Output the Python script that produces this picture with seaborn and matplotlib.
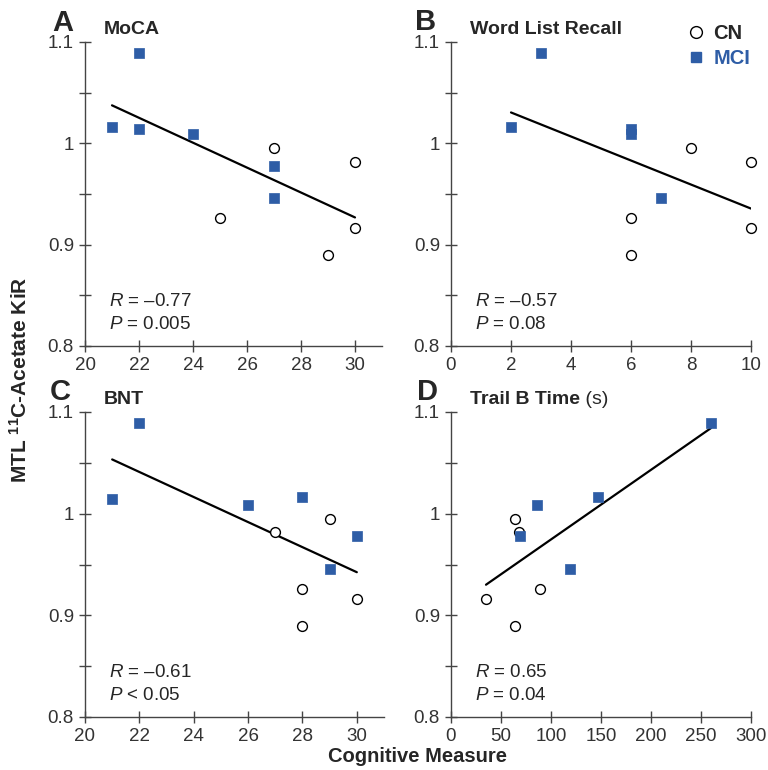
import numpy as np
import pandas as pd
import seaborn as sns
import matplotlib
matplotlib.use("Agg")
import matplotlib.pyplot as plt
from matplotlib.lines import Line2D
from matplotlib.ticker import MultipleLocator, FixedFormatter, FixedLocator

sns.set_style("ticks")
plt.rcParams['font.family'] = ['Liberation Sans', 'DejaVu Sans']
plt.rcParams['mathtext.fontset'] = 'custom'
plt.rcParams['mathtext.rm'] = 'Liberation Sans'
plt.rcParams['mathtext.it'] = 'Liberation Sans:italic'
plt.rcParams['mathtext.bf'] = 'Liberation Sans:bold'

# --- data ---
moca_mci_x = [21, 22, 22, 24, 27, 27]
moca_mci_y = [1.016, 1.089, 1.014, 1.009, 0.978, 0.946]
moca_cn_x = [27, 30, 25, 30, 29]
moca_cn_y = [0.995, 0.982, 0.926, 0.916, 0.890]

wlr_mci_x = [2, 3, 6, 6, 7]
wlr_mci_y = [1.016, 1.089, 1.014, 1.009, 0.946]
wlr_cn_x = [8, 10, 6, 10, 6]
wlr_cn_y = [0.995, 0.982, 0.926, 0.916, 0.890]

bnt_mci_x = [21, 22, 26, 28, 30, 29]
bnt_mci_y = [1.014, 1.089, 1.009, 1.016, 0.978, 0.946]
bnt_cn_x = [29, 27, 28, 30, 28]
bnt_cn_y = [0.995, 0.982, 0.926, 0.916, 0.890]

trail_mci_x = [260, 86, 147, 69, 119]
trail_mci_y = [1.089, 1.009, 1.016, 0.978, 0.946]
trail_cn_x = [64, 68, 89, 35, 64]
trail_cn_y = [0.995, 0.982, 0.926, 0.916, 0.890]

titles = ["MoCA", "Word List Recall", "BNT", "Trail B Time"]
letters = ["A", "B", "C", "D"]
stats_r = ["\u20130.77", "\u20130.57", "\u20130.61", "0.65"]
stats_p = ["= 0.005", "= 0.08", "< 0.05", "= 0.04"]
xlims = [(20, 31), (0, 10), (20, 31), (0, 300)]
xsteps = [2, 2, 2, 50]

blue = "#2E5DA6"
tick_col = "#333333"

panels = [
    (moca_mci_x, moca_mci_y, moca_cn_x, moca_cn_y),
    (wlr_mci_x, wlr_mci_y, wlr_cn_x, wlr_cn_y),
    (bnt_mci_x, bnt_mci_y, bnt_cn_x, bnt_cn_y),
    (trail_mci_x, trail_mci_y, trail_cn_x, trail_cn_y),
]

W, H = 768, 770
fig = plt.figure(figsize=(W / 100, H / 100), dpi=100)

# axes boxes in pixels: left, right, top(1.1), bottom(0.8)
boxes = [(85, 382, 42, 346), (451, 751, 42, 346),
         (85, 384, 412, 717), (451, 751, 412, 717)]
letter_pos = [(52, 31), (415, 30), (50, 400), (417, 400)]

axes = []
for i, (mx, my, cx, cy) in enumerate(panels):
    l, r, t, b = boxes[i]
    ax = fig.add_axes([l / W, 1 - b / H, (r - l) / W, (b - t) / H])
    axes.append(ax)

    df = pd.DataFrame({"x": list(mx) + list(cx), "y": list(my) + list(cy),
                       "group": ["MCI"] * len(mx) + ["CN"] * len(cx)})

    sns.regplot(data=df, x="x", y="y", scatter=False, ci=None, truncate=True,
                line_kws={"color": "black", "lw": 1.6}, ax=ax)
    sns.scatterplot(data=df[df.group == "CN"], x="x", y="y", marker="o", s=50,
                    facecolor="white", edgecolor="black", linewidth=1.0,
                    ax=ax, zorder=3, clip_on=False)
    sns.scatterplot(data=df[df.group == "MCI"], x="x", y="y", marker="s", s=42,
                    color=blue, edgecolor=blue, linewidth=0.5, ax=ax, zorder=4,
                    clip_on=False)

    ax.set_xlim(*xlims[i])
    ax.set_ylim(0.8, 1.1)
    ax.xaxis.set_major_locator(MultipleLocator(xsteps[i]))
    ax.yaxis.set_major_locator(FixedLocator([0.8, 0.9, 1.0, 1.1]))
    ax.yaxis.set_major_formatter(FixedFormatter(["0.8", "0.9", "1", "1.1"]))
    ax.yaxis.set_minor_locator(FixedLocator([0.85, 0.95, 1.05]))
    ax.tick_params(which="both", direction="inout", color="#444444", width=1.0,
                   labelsize=13.5, labelcolor=tick_col, pad=4)
    ax.tick_params(which="major", length=8)
    ax.tick_params(which="minor", length=8)
    for s in ["top", "right"]:
        ax.spines[s].set_visible(False)
    for s in ["left", "bottom"]:
        ax.spines[s].set_color("#444444")
        ax.spines[s].set_linewidth(1.0)
    ax.set_xlabel("")
    ax.set_ylabel("")
    ax.set_facecolor("white")

    t_txt = ax.text(0.062, 1.04, titles[i], transform=ax.transAxes, fontsize=14,
                    fontweight="bold", ha="left", va="center")
    if i == 3:
        ax.annotate(" (s)", xy=(1, 0), xycoords=t_txt, fontsize=14,
                    ha="left", va="bottom")

    ax.text(0.08, 0.145, r"$\mathit{R}$ = " + stats_r[i], transform=ax.transAxes,
            fontsize=13.5, ha="left", va="center")
    ax.text(0.08, 0.07, r"$\mathit{P}$ " + stats_p[i], transform=ax.transAxes,
            fontsize=13.5, ha="left", va="center")

    lx, ly = letter_pos[i]
    fig.text(lx / W, 1 - ly / H, letters[i], fontsize=21, fontweight="bold",
             ha="left", va="baseline")

# legend in panel B
handles = [Line2D([], [], marker="o", ls="", markersize=8.5,
                  markerfacecolor="white", markeredgecolor="black", markeredgewidth=1.0),
           Line2D([], [], marker="s", ls="", markersize=7,
                  markerfacecolor=blue, markeredgecolor=blue)]
leg = axes[1].legend(handles, ["CN", "MCI"], loc="upper left",
                     bbox_to_anchor=(686 / W, 1 - 24 / H), bbox_transform=fig.transFigure,
                     frameon=False, borderpad=0, borderaxespad=0, handlelength=1.0,
                     handletextpad=0.35, labelspacing=0.3,
                     prop={"weight": "bold", "size": 14.5})
leg.get_texts()[1].set_color(blue)

fig.text(418 / W, 1 - 756 / H, "Cognitive Measure", fontsize=14.5,
         fontweight="bold", ha="center", va="center")
fig.text(20 / W, 1 - 380 / H, r"MTL $\mathbf{^{11}}$C-Acetate KiR", fontsize=15,
         fontweight="bold", rotation=90, ha="center", va="center")

fig.savefig("out.png", dpi=100, facecolor="white")
